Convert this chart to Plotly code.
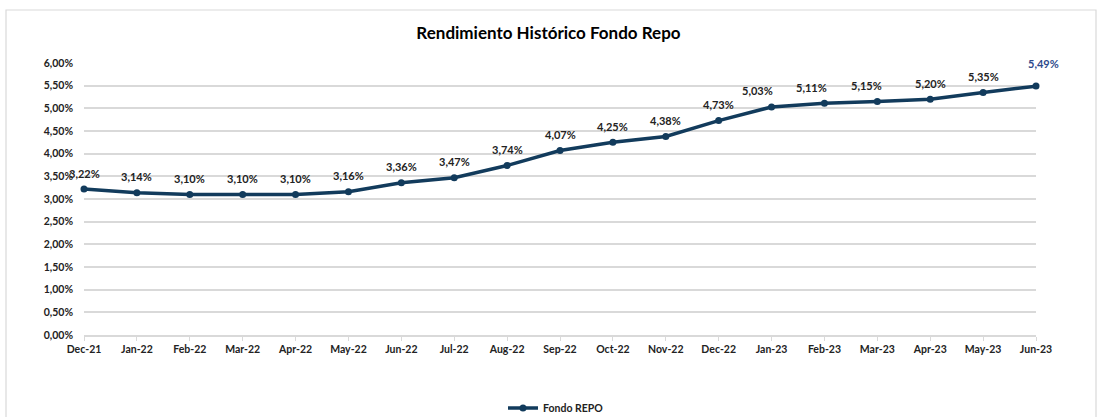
import plotly.graph_objects as go

months = ["Dec-21", "Jan-22", "Feb-22", "Mar-22", "Apr-22", "May-22", "Jun-22", "Jul-22",
          "Aug-22", "Sep-22", "Oct-22", "Nov-22", "Dec-22", "Jan-23", "Feb-23", "Mar-23",
          "Apr-23", "May-23", "Jun-23"]
rendimiento = [3.22, 3.14, 3.10, 3.10, 3.10, 3.16, 3.36, 3.47, 3.74, 4.07, 4.25, 4.38,
               4.73, 5.03, 5.11, 5.15, 5.20, 5.35, 5.49]
y_ticks = [0, 0.5, 1, 1.5, 2, 2.5, 3, 3.5, 4, 4.5, 5, 5.5, 6]

title_text = "Rendimiento Histórico Fondo Repo"
series_name = "Fondo REPO"

# label placement tweaks (pixels)
label_xshift = [0] * 13 + [-14, -13, -11, 0, 0, 7]
label_yshift = [16] * 18 + [23]

LINE = "#123B5C"
TXT = "#222222"
GRID = "#D9D9D9"
FONT = "Lato"

def fmt(v):
    return f"{v:.2f}".replace(".", ",") + "%"

fig = go.Figure()
fig.add_trace(go.Scatter(
    x=list(range(len(months))), y=rendimiento, name=series_name,
    mode="lines+markers",
    line=dict(color=LINE, width=3.5),
    marker=dict(color=LINE, size=7),
    cliponaxis=False,
))

for i, (m, v) in enumerate(zip(months, rendimiento)):
    last = i == len(months) - 1
    fig.add_annotation(
        x=i, y=v, text=fmt(v), showarrow=False,
        xshift=label_xshift[i], yshift=label_yshift[i],
        font=dict(family=FONT, size=11, color="#2E4A8C" if last else TXT, weight="bold"),
    )

W, H = 1097, 417
L, R, T, B = 84, 61, 63, 82
PW, PH = W - L - R, H - T - B

fig.add_shape(type="rect", xref="paper", yref="paper",
              x0=(6 - L) / PW, x1=(1096 - L) / PW,
              y0=-(H + 20 - T - PH) / PH, y1=1 + (T - 10) / PH,
              line=dict(color="#D9D9D9", width=1.2), layer="below")

fig.update_layout(
    width=W, height=H,
    margin=dict(l=L, r=R, t=T, b=B, autoexpand=False),
    paper_bgcolor="white", plot_bgcolor="white",
    font=dict(family=FONT, color=TXT),
    title=dict(text=title_text, x=0.5, xanchor="center", xref="container",
               y=1 - 33 / H, yanchor="middle", yref="container",
               font=dict(family=FONT, size=17, color="#000000", weight="bold")),
    showlegend=True,
    legend=dict(orientation="h", x=(556 - L) / PW, xanchor="center",
                y=1 - 408 / H, yanchor="middle", yref="container",
                font=dict(family=FONT, size=10.5, color=TXT, weight="bold"),
                itemwidth=30),
)
fig.update_xaxes(
    range=[0, len(months) - 1], tickmode="array",
    tickvals=list(range(len(months))), ticktext=months,
    showgrid=False, zeroline=False,
    showline=True, linecolor=GRID, linewidth=1.5,
    ticks="outside", ticklen=4, tickcolor=GRID,
    tickfont=dict(family=FONT, size=10.5, color=TXT, weight="bold"),
)
fig.update_yaxes(
    range=[0, 6], tickmode="array", tickvals=y_ticks,
    ticktext=[fmt(t) for t in y_ticks],
    showgrid=True, gridcolor=GRID, gridwidth=1.5, zeroline=False,
    showline=False, ticks="", ticklabelstandoff=10,
    tickfont=dict(family=FONT, size=10.5, color=TXT, weight="bold"),
)

fig.write_html("out.html", config={"displayModeBar": False},
               post_script="document.body.style.margin='0';")
